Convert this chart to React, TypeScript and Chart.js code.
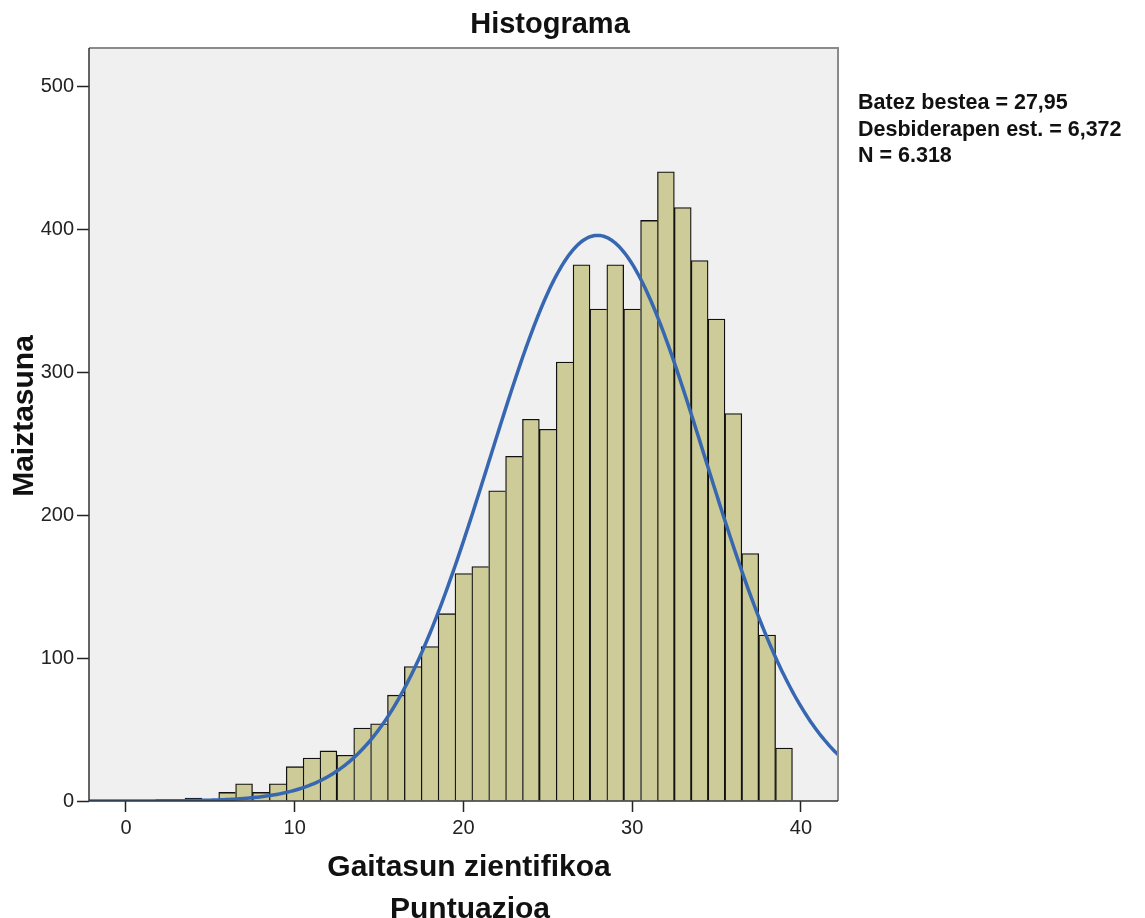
import React, { useEffect, useRef } from "react";
import { Chart, registerables } from "chart.js";

Chart.register(...registerables);

// ---- data ----
const scores = [
  0, 1, 2, 3, 4, 5, 6, 7, 8, 9, 10, 11, 12, 13, 14, 15, 16, 17, 18, 19, 20,
  21, 22, 23, 24, 25, 26, 27, 28, 29, 30, 31, 32, 33, 34, 35, 36, 37, 38, 39,
];
const counts = [
  0, 0, 0, 0, 2, 0, 6, 12, 6, 12, 24, 30, 35, 32, 51, 54, 74, 94, 108, 131,
  159, 164, 217, 241, 267, 260, 307, 375, 344, 375, 344, 406, 440, 415, 378,
  337, 271, 173, 116, 37,
];
const xTicks = [0, 10, 20, 30, 40];
const yTicks = [0, 100, 200, 300, 400, 500];
const MEAN = 27.95;
const SD = 6.372;
const N = 6318;
const statLines = ["Batez bestea = 27,95", "Desbiderapen est. = 6,372", "N = 6.318"];
const chartTitle = "Histograma";
const yTitle = "Maiztasuna";
const xTitle = ["Gaitasun zientifikoa", "Puntuazioa"];
const X_MIN = -2.19;
const X_MAX = 42.2;
const Y_MAX = 526.6;

// fitted normal curve from the displayed statistics (bin width 1)
const curveXs: number[] = [];
for (let i = 0; X_MIN + i * 0.1 <= X_MAX + 0.1; i++) curveXs.push(X_MIN + i * 0.1);
const normalCurve = curveXs.map((x) => ({
  x,
  y: (N / (SD * Math.sqrt(2 * Math.PI))) * Math.exp(-0.5 * ((x - MEAN) / SD) ** 2),
}));

const FONT = "'Liberation Sans', Arial, sans-serif";

const decorPlugin = {
  id: "decor",
  beforeDraw(chart: any) {
    const { ctx } = chart;
    ctx.save();
    ctx.fillStyle = "#ffffff";
    ctx.fillRect(0, 0, chart.width, chart.height);
    ctx.restore();
  },
  beforeDatasetsDraw(chart: any) {
    const { ctx, chartArea: a } = chart;
    ctx.save();
    ctx.fillStyle = "#f0f0f0";
    ctx.fillRect(a.left, a.top, a.right - a.left, a.bottom - a.top);
    ctx.restore();
  },
  afterDraw(chart: any) {
    const { ctx, chartArea: a } = chart;
    ctx.save();
    // top & right frame
    ctx.strokeStyle = "#8a8a8a";
    ctx.lineWidth = 2;
    ctx.beginPath();
    ctx.moveTo(a.left, a.top);
    ctx.lineTo(a.right, a.top);
    ctx.lineTo(a.right, a.bottom);
    ctx.stroke();
    // left / bottom axis lines
    ctx.strokeStyle = "#333333";
    ctx.lineWidth = 1.5;
    ctx.beginPath();
    ctx.moveTo(a.left, a.top);
    ctx.lineTo(a.left, a.bottom);
    ctx.lineTo(a.right, a.bottom);
    ctx.stroke();

    ctx.fillStyle = "#111111";
    // title
    ctx.font = `bold 29px ${FONT}`;
    ctx.textAlign = "center";
    ctx.textBaseline = "alphabetic";
    ctx.fillText(chartTitle, 550, 33);
    // x title
    ctx.font = `bold 30px ${FONT}`;
    ctx.fillText(xTitle[0], 469, 876);
    ctx.fillText(xTitle[1], 470, 918);
    // y title
    ctx.save();
    ctx.translate(33, 416);
    ctx.rotate(-Math.PI / 2);
    ctx.font = `bold 30px ${FONT}`;
    ctx.fillText(yTitle, 0, 0);
    ctx.restore();
    // stats
    ctx.textAlign = "left";
    ctx.font = `bold 21.5px ${FONT}`;
    const bases = [109, 136, 162];
    statLines.forEach((t, i) => ctx.fillText(t, 858, bases[i]));
    ctx.restore();
  },
};

export default function App() {
  const ref = useRef<HTMLCanvasElement | null>(null);
  useEffect(() => {
    if (!ref.current) return;
    const barData = scores.map((s, i) => ({ x: s, y: counts[i] }));
    const chart = new Chart(ref.current, {
      type: "bar",
      data: {
        datasets: [
          {
            type: "line",
            data: normalCurve,
            borderColor: "#3767b0",
            borderWidth: 3.5,
            pointRadius: 0,
            tension: 0,
            order: 0,
          } as any,
          {
            type: "bar",
            data: barData,
            backgroundColor: "#cdcb98",
            borderColor: "#111111",
            borderWidth: (ctx: any) => {
              const i = ctx.dataIndex;
              const cur = counts[i] ?? 0;
              const next = i + 1 < counts.length ? counts[i + 1] : -1;
              return { top: 1.3, left: 1.3, right: next < cur ? 1.3 : 0, bottom: 0 };
            },
            borderSkipped: false,
            barPercentage: 1,
            categoryPercentage: 1,
            order: 1,
          } as any,
        ],
      },
      options: {
        responsive: false,
        animation: false,
        layout: { padding: { left: 0, top: 48, right: 1145 - 838, bottom: 0 } },
        plugins: {
          legend: { display: false },
          title: { display: false },
          tooltip: { enabled: false },
        },
        scales: {
          x: {
            type: "linear",
            min: X_MIN,
            max: X_MAX,
            offset: false,
            afterFit: (s: any) => {
              s.height = 918 - 801;
            },
            afterBuildTicks: (s: any) => {
              s.ticks = xTicks.map((v) => ({ value: v }));
            },
            grid: {
              display: true,
              offset: false,
              drawOnChartArea: false,
              drawTicks: true,
              tickLength: 11,
              tickColor: "#222",
              tickWidth: 1.5,
            },
            border: { display: false },
            ticks: {
              padding: 4,
              color: "#222",
              font: { family: FONT, size: 20 },
              maxRotation: 0,
              autoSkip: false,
            },
          },
          y: {
            type: "linear",
            min: 0,
            max: Y_MAX,
            afterFit: (s: any) => {
              s.width = 89;
            },
            afterBuildTicks: (s: any) => {
              s.ticks = yTicks.map((v) => ({ value: v }));
            },
            grid: {
              display: true,
              offset: false,
              drawOnChartArea: false,
              drawTicks: true,
              tickLength: 12,
              tickColor: "#222",
              tickWidth: 1.5,
            },
            border: { display: false },
            ticks: {
              padding: 3,
              color: "#222",
              font: { family: FONT, size: 20 },
              autoSkip: false,
            },
          },
        },
      },
      plugins: [decorPlugin],
    });
    return () => chart.destroy();
  }, []);
  return (
    <canvas
      ref={ref}
      width={1145}
      height={918}
      style={{ position: "absolute", left: 0, top: 0, display: "block" }}
    />
  );
}
